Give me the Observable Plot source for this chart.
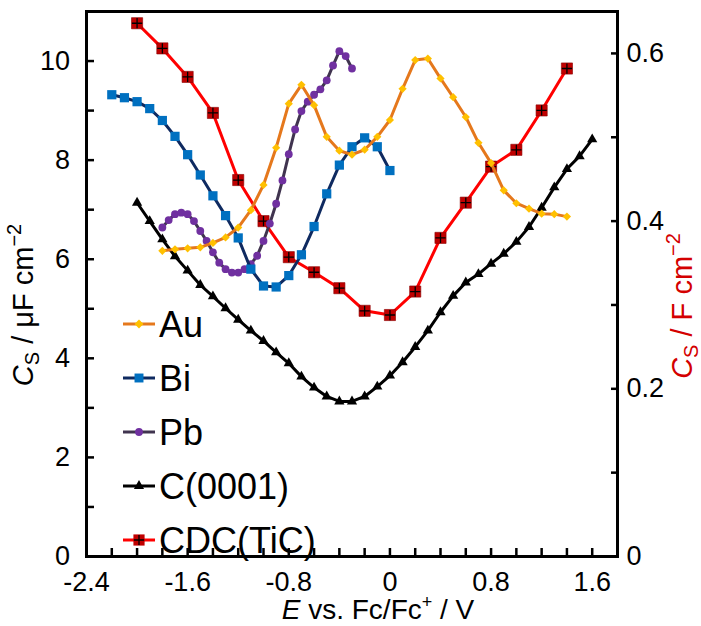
<!DOCTYPE html>
<html>
<head>
<meta charset="utf-8">
<script src="https://cdn.jsdelivr.net/npm/d3@7"></script>
<script src="https://cdn.jsdelivr.net/npm/@observablehq/plot@0.6"></script>
<style>
  html, body { margin: 0; padding: 0; background: white; }
  #chart svg { display: block; }
</style>
</head>
<body>
<div id="chart"></div>
<script>
// ---------- data ----------
const auE = [-1.8,-1.7,-1.6,-1.5,-1.4,-1.3,-1.2,-1.1,-1.0,-0.9,-0.8,-0.7,-0.6,-0.5,-0.4,-0.3,-0.2,-0.1,0.0,0.1,0.2,0.3,0.4,0.5,0.6,0.7,0.8,0.9,1.0,1.1,1.2,1.3,1.4];
const auC = [6.17,6.20,6.22,6.24,6.33,6.44,6.64,6.99,7.50,8.25,9.14,9.52,9.11,8.47,8.19,8.11,8.21,8.47,8.81,9.44,10.02,10.05,9.65,9.27,8.87,8.35,7.94,7.39,7.13,7.02,6.92,6.91,6.86];

const biE = [-2.2,-2.1,-2.0,-1.9,-1.8,-1.7,-1.6,-1.5,-1.4,-1.3,-1.2,-1.1,-1.0,-0.9,-0.8,-0.7,-0.6,-0.5,-0.4,-0.3,-0.2,-0.1,0.0];
const biC = [9.32,9.26,9.18,9.04,8.80,8.48,8.11,7.70,7.28,6.88,6.43,5.80,5.46,5.44,5.67,6.09,6.66,7.32,7.90,8.27,8.45,8.27,7.79];

const pbE = [-1.8,-1.75,-1.7,-1.65,-1.6,-1.55,-1.5,-1.45,-1.4,-1.35,-1.3,-1.25,-1.2,-1.15,-1.1,-1.05,-1.0,-0.95,-0.9,-0.85,-0.8,-0.75,-0.7,-0.65,-0.6,-0.55,-0.5,-0.45,-0.4,-0.35,-0.3];
const pbC = [6.64,6.79,6.91,6.94,6.91,6.77,6.57,6.37,6.14,5.93,5.80,5.73,5.73,5.80,5.90,6.07,6.37,6.72,7.12,7.59,8.12,8.62,8.99,9.18,9.32,9.43,9.61,9.91,10.20,10.10,9.85];

const cE = [-2.0,-1.9,-1.8,-1.7,-1.6,-1.5,-1.4,-1.3,-1.2,-1.1,-1.0,-0.9,-0.8,-0.7,-0.6,-0.5,-0.4,-0.3,-0.2,-0.1,0.0,0.1,0.2,0.3,0.4,0.5,0.6,0.7,0.8,0.9,1.0,1.1,1.2,1.3,1.4,1.5,1.6];
const cC = [7.14,6.77,6.40,6.06,5.77,5.48,5.25,5.01,4.78,4.56,4.35,4.12,3.90,3.63,3.41,3.23,3.13,3.13,3.23,3.43,3.65,3.92,4.23,4.56,4.93,5.26,5.53,5.70,5.91,6.11,6.35,6.65,7.04,7.45,7.82,8.08,8.42];

// CDC(TiC) on right axis, F cm^-2
const cdcE = [-2.0,-1.8,-1.6,-1.4,-1.2,-1.0,-0.8,-0.6,-0.4,-0.2,0.0,0.2,0.4,0.6,0.8,1.0,1.2,1.4];
const cdcC = [0.636,0.606,0.572,0.529,0.449,0.400,0.357,0.339,0.320,0.293,0.288,0.316,0.380,0.422,0.465,0.485,0.532,0.582];

// ---------- axes ----------
const xDomain = [-2.4, 1.8];
const xTicks = [-2.4,-2.2,-2.0,-1.8,-1.6,-1.4,-1.2,-1.0,-0.8,-0.6,-0.4,-0.2,0,0.2,0.4,0.6,0.8,1.0,1.2,1.4,1.6,1.8];
const xTickLabels = [-2.4,-1.6,-0.8,0,0.8,1.6];
const yDomain = [0, 11];
const yTicks = [0,1,2,3,4,5,6,7,8,9,10];
const yTickLabels = [0,2,4,6,8,10];
const y2Domain = [0, 0.65];
const y2Ticks = [0,0.1,0.2,0.3,0.4,0.5,0.6];
const y2TickLabels = [0,0.2,0.4,0.6];

const k = yDomain[1] / y2Domain[1];   // right-axis units -> left-axis units
const near = (a, b) => Math.abs(a - b) < 1e-6;
const fmt = v => { const r = Math.round(v * 10) / 10; return r === 0 ? "0" : String(r); };

const rows = (E, C) => E.map((e, i) => ({e, c: C[i]}));
const au = rows(auE, auC), bi = rows(biE, biC), pb = rows(pbE, pbC), cg = rows(cE, cC), cdc = rows(cdcE, cdcC);

const col = {
  auLine: "#E5781C", auDot: "#FFC000",
  biLine: "#0F2A60", biDot: "#0070C0",
  pbLine: "#40344F", pbDot: "#7030A0",
  cLine: "#000000",
  cdcLine: "#FF0000", cdcDot: "#C00000"
};

const chart = Plot.plot({
  width: 701,
  height: 626,
  marginLeft: 86,
  marginRight: 84,
  marginTop: 11,
  marginBottom: 70,
  x: {domain: xDomain},
  y: {domain: yDomain},
  style: {fontFamily: "'Liberation Sans', Arial, sans-serif", fontSize: "27px", color: "black", background: "white"},
  marks: [
    // CDC(TiC) on secondary axis
    Plot.line(cdc, {x: "e", y: d => d.c * k, stroke: col.cdcLine, strokeWidth: 3}),
    Plot.dot(cdc, {x: "e", y: d => d.c * k, symbol: "square", r: 6.3, fill: col.cdcDot, stroke: "#8a0000", strokeWidth: 0.6}),
    Plot.dot(cdc, {x: "e", y: d => d.c * k, symbol: "plus", r: 3.4, stroke: "black", strokeWidth: 1.3}),
    // C(0001)
    Plot.line(cg, {x: "e", y: "c", stroke: col.cLine, strokeWidth: 3}),
    Plot.dot(cg, {x: "e", y: "c", symbol: "triangle", r: 3.8, fill: "black"}),
    // Pb
    Plot.line(pb, {x: "e", y: "c", stroke: col.pbLine, strokeWidth: 3}),
    Plot.dot(pb, {x: "e", y: "c", symbol: "circle", r: 3.9, fill: col.pbDot}),
    // Bi
    Plot.line(bi, {x: "e", y: "c", stroke: col.biLine, strokeWidth: 3}),
    Plot.dot(bi, {x: "e", y: "c", symbol: "square", r: 5.2, fill: col.biDot}),
    // Au
    Plot.line(au, {x: "e", y: "c", stroke: col.auLine, strokeWidth: 3}),
    Plot.dot(au, {x: "e", y: "c", symbol: "diamond2", r: 3.7, fill: col.auDot}),
    // axes
    Plot.axisX(xTicks, {anchor: "bottom", tickSize: -8, tickPadding: 23, strokeWidth: 2.5,
      tickFormat: d => xTickLabels.some(t => near(t, d)) ? fmt(d) : "", label: null}),
    Plot.axisY(yTicks, {anchor: "left", tickSize: -8, tickPadding: 24.5, strokeWidth: 2.5,
      tickFormat: d => yTickLabels.some(t => near(t, d)) ? String(d) : "", label: null}),
    Plot.axisY(y2Ticks.map(t => t * k), {anchor: "right", tickSize: -7, tickPadding: 16, strokeWidth: 2.5,
      tickFormat: d => y2TickLabels.some(t => near(t * k, d)) ? fmt(d / k) : "", label: null}),
    Plot.frame({strokeWidth: 3})
  ]
});

document.getElementById("chart").appendChild(chart);

// ---------- axis titles and legend ----------
const svg = d3.select(chart);
const ff = "'Liberation Sans', Arial, sans-serif";

function cTitle(g, unitText) {
  g.append("tspan").attr("font-style", "italic").text("C");
  g.append("tspan").attr("font-size", 20).attr("dy", 6).text("S");
  g.append("tspan").attr("dy", -6).text(unitText);
  g.append("tspan").attr("font-size", 20).attr("dy", -12).text("\u22122");
}
const lt = svg.append("text").attr("transform", "translate(33,305) rotate(-90)")
  .attr("text-anchor", "middle").attr("font-family", ff).attr("font-size", 29).attr("fill", "black");
cTitle(lt, " / \u03bcF cm");
const rt = svg.append("text").attr("transform", "translate(692,306) rotate(-90)")
  .attr("text-anchor", "middle").attr("font-family", ff).attr("font-size", 29).attr("fill", "#D40000");
cTitle(rt, " / F cm");

const bt = svg.append("text").attr("x", 378).attr("y", 619).attr("text-anchor", "middle")
  .attr("font-family", ff).attr("font-size", 28).attr("fill", "black");
bt.append("tspan").attr("font-style", "italic").text("E");
bt.append("tspan").text(" vs. Fc/Fc");
bt.append("tspan").attr("font-size", 18).attr("dy", -11).text("+");
bt.append("tspan").attr("dy", 11).text(" / V");

const legendItems = [
  {name: "Au", line: col.auLine, fill: col.auDot, sym: d3.symbolDiamond2, size: 50},
  {name: "Bi", line: col.biLine, fill: col.biDot, sym: d3.symbolSquare, size: 80},
  {name: "Pb", line: col.pbLine, fill: col.pbDot, sym: d3.symbolCircle, size: 48},
  {name: "C(0001)", line: col.cLine, fill: "black", sym: d3.symbolTriangle, size: 45},
  {name: "CDC(TiC)", line: col.cdcLine, fill: col.cdcDot, sym: d3.symbolSquare, size: 125, plus: true}
];
const lg = svg.append("g").attr("text-anchor", "start");
legendItems.forEach((it, i) => {
  const y = 324 + i * 54;
  const g = lg.append("g").attr("transform", `translate(0,${y})`);
  g.append("line").attr("x1", 123).attr("x2", 155).attr("y1", 0).attr("y2", 0)
    .attr("stroke", it.line).attr("stroke-width", 3);
  g.append("path").attr("transform", "translate(139,0)").attr("d", d3.symbol(it.sym, it.size)())
    .attr("fill", it.fill);
  if (it.plus) {
    g.append("path").attr("transform", "translate(139,0)").attr("d", d3.symbol(d3.symbolPlus, 36)())
      .attr("fill", "none").attr("stroke", "black").attr("stroke-width", 1.3);
  }
  g.append("text").attr("x", 159).attr("y", 0).attr("dy", "0.35em").attr("text-anchor", "start")
    .attr("font-family", ff).attr("font-size", 36).attr("fill", "black").text(it.name);
});
</script>
</body>
</html>
